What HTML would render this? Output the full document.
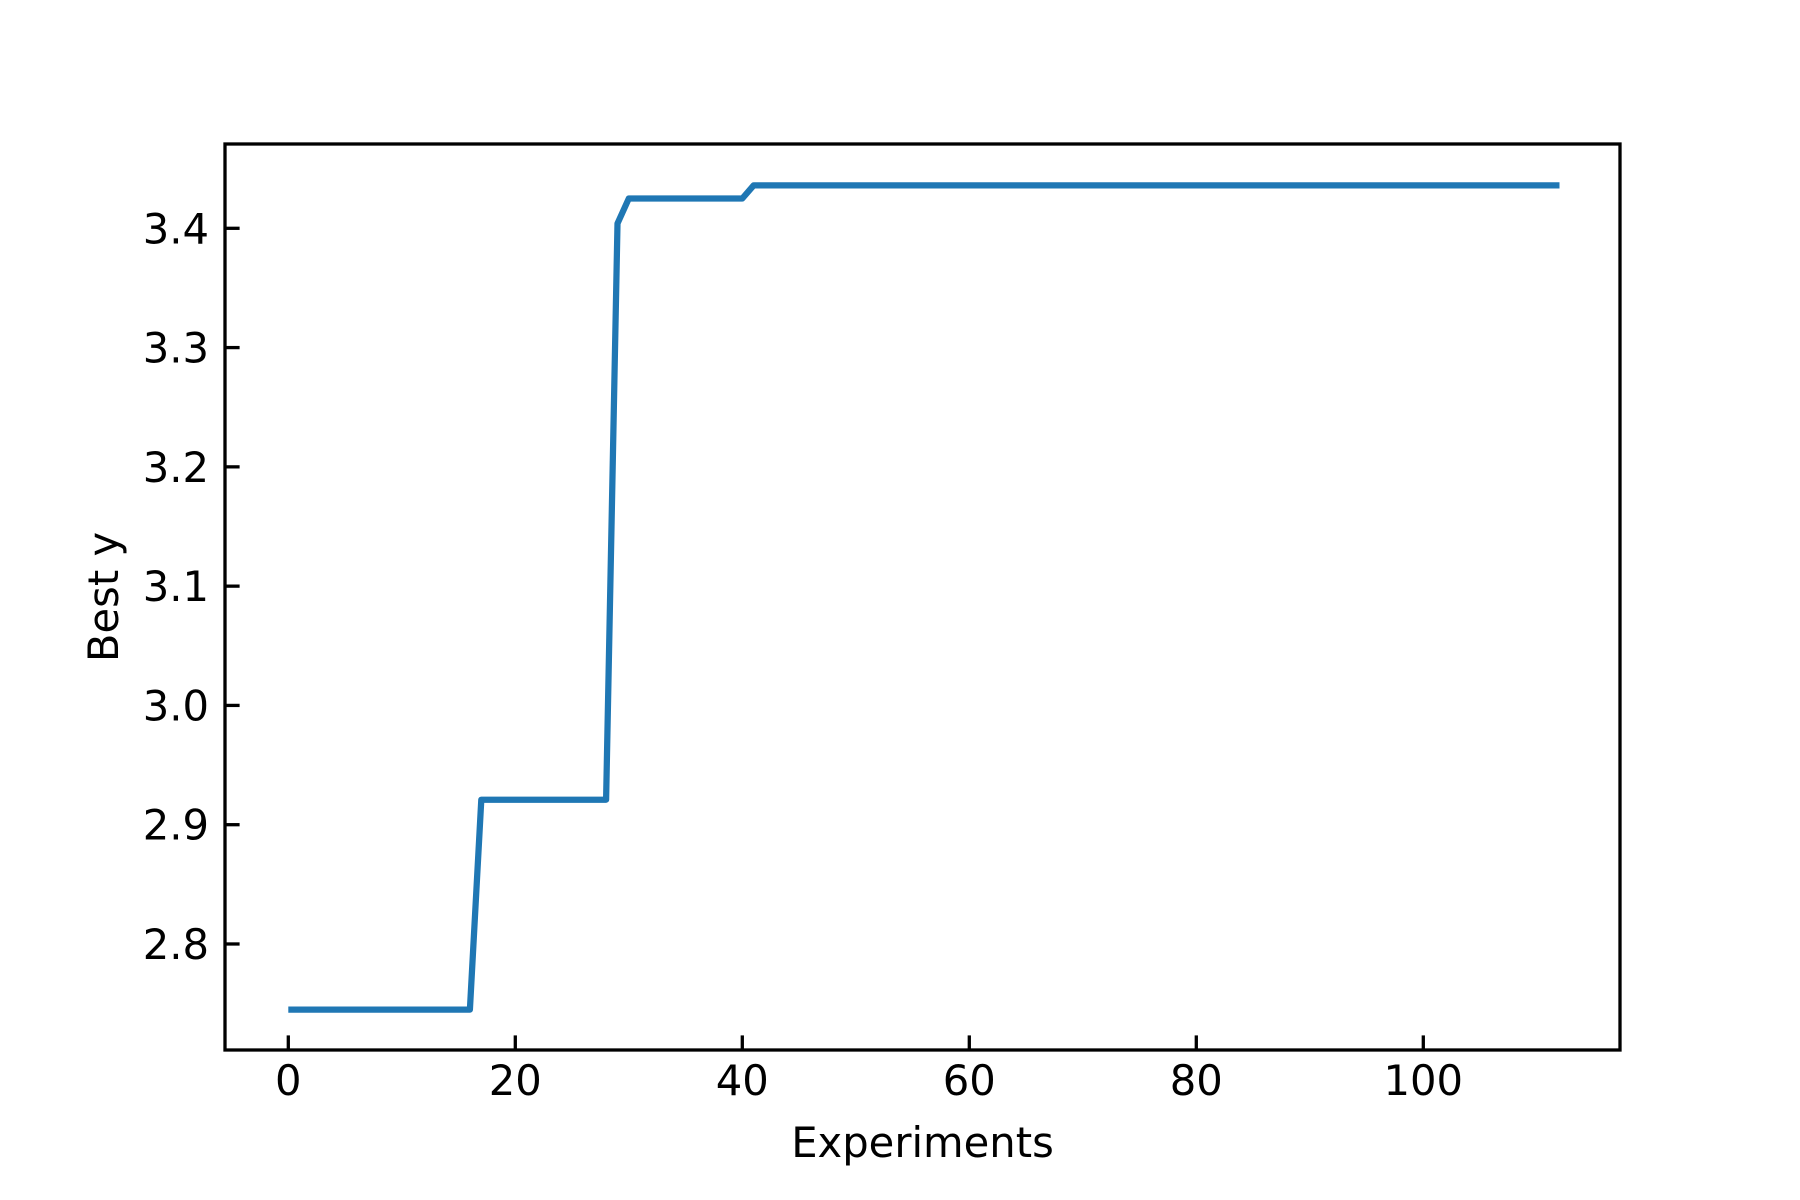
<!DOCTYPE html>
<html><head><meta charset="utf-8"><style>html,body{margin:0;padding:0;background:#fff}svg{display:block}text{font-family:"DejaVu Sans","Liberation Sans",sans-serif;fill:#000}</style></head>
<body>
<svg id="chart" width="1800" height="1200" viewBox="0 0 1800 1200" xmlns="http://www.w3.org/2000/svg">
<rect width="1800" height="1200" fill="#fff"/>
<g id="plot"></g>
</svg>
<script>
const experiments = [0,1,2,3,4,5,6,7,8,9,10,11,12,13,14,15,16,17,18,19,20,21,22,23,24,25,26,27,28,29,30,31,32,33,34,35,36,37,38,39,40,41,112];
const bestY = [2.745,2.745,2.745,2.745,2.745,2.745,2.745,2.745,2.745,2.745,2.745,2.745,2.745,2.745,2.745,2.745,2.745,2.921,2.921,2.921,2.921,2.921,2.921,2.921,2.921,2.921,2.921,2.921,2.921,3.404,3.425,3.425,3.425,3.425,3.425,3.425,3.425,3.425,3.425,3.425,3.425,3.436,3.436];
const xTicks = [0,20,40,60,80,100];
const xTickLabels = ["0","20","40","60","80","100"];
const yTicks = [2.8,2.9,3.0,3.1,3.2,3.3,3.4];
const yTickLabels = ["2.8","2.9","3.0","3.1","3.2","3.3","3.4"];

const L=225,R=1620,T=144,B=1050;
function xs(v){return 288.3+v*11.35;}
function ys(v){return 228.3+(3.4-v)*1192.8;}
const NS="http://www.w3.org/2000/svg";
const g=document.getElementById('plot');
function mk(tag,attrs){const e=document.createElementNS(NS,tag);for(const k in attrs)e.setAttribute(k,attrs[k]);g.appendChild(e);return e;}

let d=experiments.map((x,i)=>(i?'L':'M')+xs(x).toFixed(1)+' '+ys(bestY[i]).toFixed(1)).join(' ');
const line=mk('path',{d:d,fill:'none',stroke:'#1f77b4','stroke-width':6.25,'stroke-linejoin':'round','stroke-linecap':'butt'});



xTicks.forEach((v,i)=>{
  const t=mk('line',{x1:xs(v),x2:xs(v),y1:B,y2:B-14.6,stroke:'#000','stroke-width':3.3});
  
  
  const l=mk('text',{x:xs(v),y:1095,'text-anchor':'middle','font-size':41.7});
  l.textContent=xTickLabels[i];
  
  
});
yTicks.forEach((v,i)=>{
  const t=mk('line',{x1:L,x2:L+14.6,y1:ys(v),y2:ys(v),stroke:'#000','stroke-width':3.3});
  
  
  const l=mk('text',{x:209,y:ys(v)+15,'text-anchor':'end','font-size':41.7});
  l.textContent=yTickLabels[i];
  
  
});
const frame=mk('rect',{x:L,y:T,width:R-L,height:B-T,fill:'none',stroke:'#000','stroke-width':3.3});


const xl=mk('text',{x:922.5,y:1157,'text-anchor':'middle','font-size':41.7});
xl.textContent='Experiments';


const yl=mk('text',{x:0,y:0,'text-anchor':'middle','font-size':41.7,transform:'translate(118,597) rotate(-90)'});
yl.textContent='Best y';


</script>
</body></html>
